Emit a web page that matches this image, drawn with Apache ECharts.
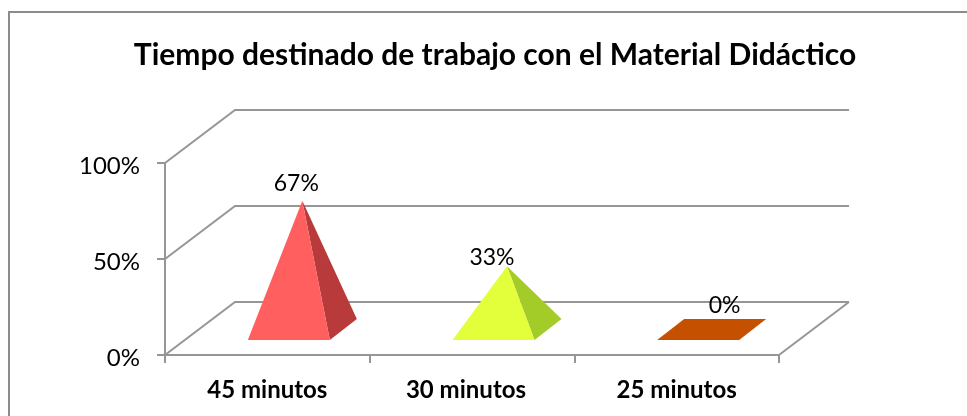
<!DOCTYPE html>
<html><head><meta charset="utf-8">
<style>html,body{margin:0;padding:0;background:#fff}#c{width:967px;height:416px}</style>
<script src="https://cdn.jsdelivr.net/npm/echarts@6/dist/echarts.min.js"></script>
</head><body><div id="c"></div>
<script>
const titleText = 'Tiempo destinado de trabajo con el Material Didáctico';
const categories = ['45 minutos', '30 minutos', '25 minutos'];
const values = [67, 33, 0];
const valueTicks = [0, 50, 100];
const frontColors = ['#FF5F5F', '#E3FF3C', '#C45000'];
const sideColors = ['#B93A3A', '#A4CC28', '#C45000'];
const labelShift = [[-6, -17], [-15, -9], [13, -24]];
const categoryPaddingRight = [0, 12, 0];

const DEPTH = [70, -53];
const HALF_W = 41, HALF_D = [13.5, -10.5];
const GRID = '#969696';
const FONT = 'Lato';

function wallsItem(params, api) {
  const kids = [];
  const line = (pts) => kids.push({type: 'polyline', shape: {points: pts}, style: {stroke: GRID, lineWidth: 2, fill: 'none'}, silent: true});
  const band = api.size([1, 0])[0];
  const x0 = api.coord([0, 0])[0] - band / 2;
  const x1 = api.coord([categories.length - 1, 0])[0] + band / 2;
  valueTicks.forEach(t => {
    const y = api.coord([0, t])[1];
    line([[x0, y], [x0 + DEPTH[0], y + DEPTH[1]], [x1 + DEPTH[0], y + DEPTH[1]]]);
    if (t === 0) line([[x1, y], [x1 + DEPTH[0], y + DEPTH[1]]]);
  });
  return {type: 'group', children: kids};
}

function pyramidItem(params, api) {
  const i = api.value(0), v = api.value(1);
  const base = api.coord([i, 0]);
  const top = api.coord([i, v]);
  const cx = base[0] + DEPTH[0] / 2, cy = base[1] + DEPTH[1] / 2 + 1;
  const apex = [cx, top[1] + DEPTH[1] / 2 + 1];
  const fl = [cx - HALF_W - HALF_D[0], cy - HALF_D[1]];
  const fr = [cx + HALF_W - HALF_D[0], cy - HALF_D[1]];
  const br = [cx + HALF_W + HALF_D[0], cy + HALF_D[1]];
  const bl = [cx - HALF_W + HALF_D[0], cy + HALF_D[1]];
  const kids = [];
  if (v === 0) {
    kids.push({type: 'polygon', shape: {points: [fl, fr, br, bl]}, style: {fill: frontColors[i]}});
  } else {
    kids.push({type: 'polygon', shape: {points: [fr, br, apex]}, style: {fill: sideColors[i]}});
    kids.push({type: 'polygon', shape: {points: [fl, fr, apex]}, style: {fill: frontColors[i]}});
  }
  kids.push({type: 'text', x: apex[0] + labelShift[i][0], y: apex[1] + labelShift[i][1],
    style: {text: v + '%', fill: '#000', font: '23px ' + FONT, align: 'center', verticalAlign: 'middle'}});
  return {type: 'group', children: kids};
}

const chart = echarts.init(document.getElementById('c'), null, {renderer: 'canvas'});
chart.setOption({
  animation: false,
  backgroundColor: '#fff',
  graphic: [{type: 'rect', shape: {x: 9, y: 12, width: 975, height: 420}, style: {fill: 'none', stroke: '#8c8c8c', lineWidth: 2}, silent: true, z: 100}],
  title: {text: titleText, left: 490, top: 35, textAlign: 'center',
    textStyle: {fontFamily: FONT, fontWeight: 'bold', fontSize: 30, color: '#000'}},
  grid: {left: 165, top: 163, width: 614, height: 192},
  xAxis: {type: 'category',
    data: categories.map((c, i) => ({value: c, textStyle: {padding: [0, categoryPaddingRight[i], 0, 0]}})),
    axisLine: {lineStyle: {color: GRID, width: 2}},
    axisTick: {show: true, length: 8, alignWithLabel: false, lineStyle: {color: GRID, width: 2}},
    axisLabel: {fontFamily: FONT, fontWeight: 'bold', fontSize: 24, color: '#000', margin: 23},
    splitLine: {show: false}},
  yAxis: {type: 'value', min: 0, max: 100, interval: 50,
    axisLine: {show: true, lineStyle: {color: GRID, width: 2}},
    axisTick: {show: true, length: 8, lineStyle: {color: GRID, width: 2}},
    axisLabel: {fontFamily: FONT, fontSize: 24, color: '#000', margin: 25, verticalAlign: 'top', lineHeight: 6, formatter: '{value}%'},
    splitLine: {show: false}},
  series: [
    {type: 'custom', z: 1, clip: false, renderItem: wallsItem, data: [[0, 0]], silent: true, encode: {x: 0, y: 1}},
    {type: 'custom', z: 2, clip: false, renderItem: pyramidItem, data: values.map((v, i) => [i, v]), encode: {x: 0, y: 1}}
  ]
});
</script></body></html>
